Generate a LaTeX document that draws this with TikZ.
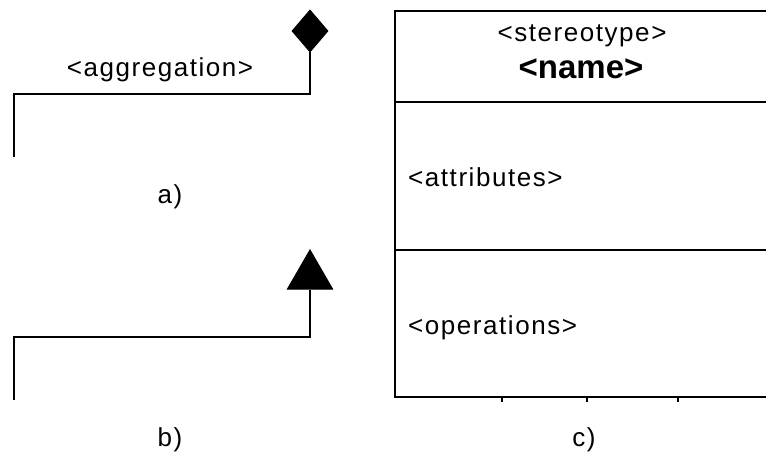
\documentclass[tikz,border=0pt]{standalone}
\usepackage{fontspec}
\setmainfont{Liberation Sans}
\newfontfamily\pixfont[LetterSpace=6]{Liberation Sans}
\usepackage{tikz}
\usetikzlibrary{shapes.geometric,positioning}

\begin{document}
\begin{tikzpicture}[
    x=1pt, y=-1pt,
    font=\pixfont\fontsize{26}{30}\selectfont,
    line/.style={draw=black, line width=2pt},
    label/.style={inner sep=0pt, anchor=base},
    member/.style={inner sep=0pt, anchor=base west},
    headtip/.style={fill=black, draw=black, line width=1pt, inner sep=0pt}
]
\useasboundingbox (0,0) rectangle (766,452);

% a) aggregation
\node[headtip, diamond, minimum width=36pt, minimum height=42pt] (dia) at (310,31) {};
\coordinate (aend) at (14,157);
\node[label] (agg) at (160,77) {<aggregation>};
\node[label] (la) at (170,203) {a)};
\draw[line] (aend) -- ++(0,-63) -| (dia.south);

% b) generalization
\node[headtip, regular polygon, regular polygon sides=3, minimum size=52pt] (tri) at (310,276) {};
\coordinate (bend) at (14,400);
\node[label] (lb) at (170,446) {b)};
\draw[line] (bend) -- ++(0,-63) -| (tri.south);

% c) class box
\coordinate (tl) at (395,11);
\coordinate (br) at (780,397);
\draw[line] (tl) rectangle (br);
\draw[line] (395,102) -- (780,102);
\draw[line] (395,250) -- (780,250);
\node[label] (stereo) at (582,42) {<stereotype>};
\node[label, font=\bfseries\fontsize{33}{36}\selectfont] (name) at (581,79) {<name>};
\node[member] (attr) at (408,186) {<attributes>};
\node[member] (ops) at (408,334) {<operations>};
\foreach \tx in {502,587,678}
  \draw[line, line width=1.5pt] (\tx,397) -- (\tx,402);
\node[label] (lc) at (584,446) {c)};
\end{tikzpicture}
\end{document}
